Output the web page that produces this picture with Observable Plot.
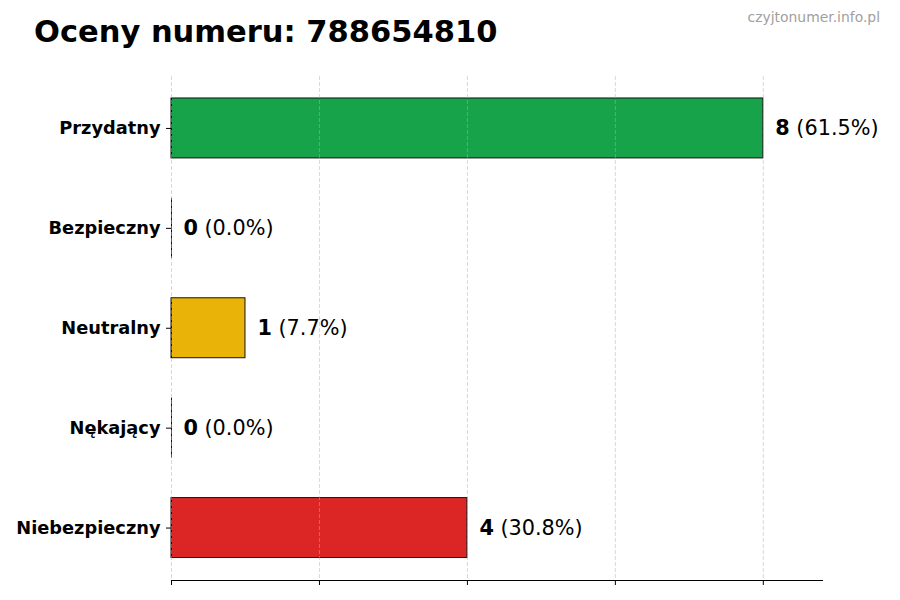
<!DOCTYPE html>
<html>
<head>
<meta charset="utf-8">
<script src="https://cdn.jsdelivr.net/npm/d3@7"></script>
<script src="https://cdn.jsdelivr.net/npm/@observablehq/plot@0.6"></script>
<style>
  html, body { margin: 0; padding: 0; background: #fff; }
  #wrap { position: relative; width: 900px; height: 600px; font-family: "DejaVu Sans", sans-serif; }
  #title { position: absolute; left: 34px; top: 14px; font-size: 30.5px; font-weight: bold; color: #000; white-space: nowrap; }
  #wm { position: absolute; right: 20px; top: 9px; font-size: 13.9px; color: #a0a0a0; white-space: nowrap; }
  #chart { position: absolute; left: 0; top: 0; }
</style>
</head>
<body>
<div id="wrap">
  <div id="chart"></div>
  <div id="title"></div>
  <div id="wm"></div>
</div>
<script>
const titleText = "Oceny numeru: 788654810";
const watermark = "czyjtonumer.info.pl";
const categories = ["Przydatny", "Bezpieczny", "Neutralny", "Nękający", "Niebezpieczny"];
const counts = [8, 0, 1, 0, 4];
const colors = ["#16a34a", "#84cc16", "#eab308", "#f97316", "#dc2626"];
const xTicks = [0, 2, 4, 6, 8];

document.getElementById("title").textContent = titleText;
document.getElementById("wm").textContent = watermark;

const total = d3.sum(counts);
const data = categories.map((c, i) => ({
  cat: c,
  value: counts[i],
  color: colors[i],
  pct: "(" + (counts[i] / total * 100).toFixed(1) + "%)"
}));

const chart = Plot.plot({
  width: 900,
  height: 600,
  marginLeft: 171,
  marginRight: 78,
  marginTop: 76,
  marginBottom: 20,
  style: { fontFamily: "DejaVu Sans, sans-serif", background: "#fff", overflow: "visible" },
  x: { domain: [0, 8.8], axis: null },
  y: { domain: categories, range: [78, 577.5], paddingInner: 0.4, paddingOuter: 0.2, round: false, axis: null },
  marks: [
    Plot.barX(data, { y: "cat", x: "value", fill: "color", stroke: "#111", strokeWidth: 1, inset: 0 }),
    Plot.tickX(data, { y: "cat", x: 0, stroke: "#111", strokeWidth: 1 }),
    Plot.gridX(xTicks, { stroke: "#b0b0b0", strokeOpacity: 0.55, strokeDasharray: "4,2", strokeWidth: 0.9 }),
    Plot.frame({ anchor: "bottom", stroke: "#000", strokeWidth: 1.1 }),
    Plot.axisX({ ticks: xTicks, tickFormat: () => "", tickSize: 5, stroke: "#000", label: null }),
    Plot.axisY({ tickSize: 5, tickPadding: 6, fontSize: 17.8, fontWeight: "bold", fill: "#000", label: null, anchor: "left" }),
    Plot.text(data, { x: "value", y: "cat", text: d => String(d.value), dx: 12, textAnchor: "start", fontSize: 20.8, fontWeight: "bold", fill: "#000" }),
    Plot.text(data, { x: "value", y: "cat", text: "pct", dx: 33, textAnchor: "start", fontSize: 20.8, fill: "#000" })
  ]
});
document.getElementById("chart").appendChild(chart);
</script>
</body>
</html>
